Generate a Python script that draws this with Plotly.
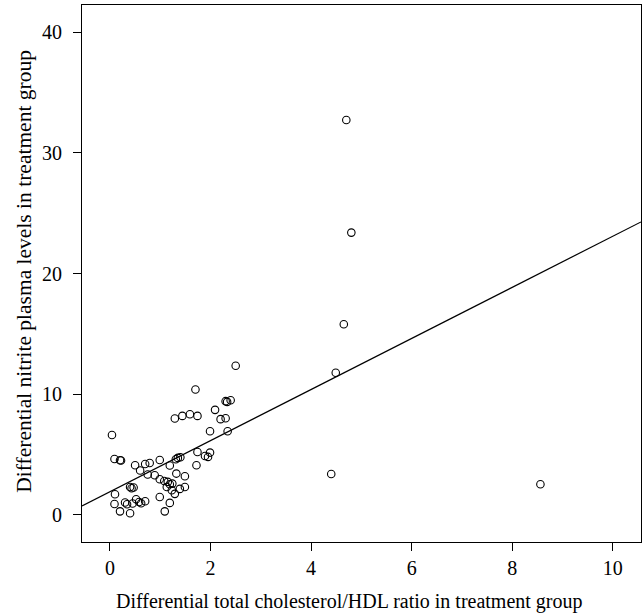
import numpy as np
import plotly.graph_objects as go

# Differential total cholesterol/HDL ratio (x) and differential nitrite plasma levels (y)
chol_hdl_ratio = [
    0.04, 0.09, 0.20, 0.22, 0.10, 0.09, 0.20, 0.30, 0.40, 0.34,
    0.45, 0.40, 0.43, 0.47, 0.52, 0.58, 0.62, 0.70, 0.50, 0.60,
    0.70, 0.79, 0.75, 0.89, 0.99, 0.99, 1.08, 0.99, 1.09, 1.19,
    1.19, 1.15, 1.19, 1.24, 1.13, 1.23, 1.29, 1.32, 1.31, 1.35,
    1.40, 1.39, 1.49, 1.49, 1.29, 1.44, 1.59, 1.74, 1.70, 1.74,
    1.72, 1.89, 1.95, 1.99, 1.99, 2.09, 2.20, 2.30, 2.34, 2.30,
    2.33, 2.40, 2.50, 4.70, 4.80, 4.65, 4.49, 4.40, 8.56,
]
nitrite_levels = [
    6.63, 4.64, 4.54, 4.51, 1.72, 0.91, 0.30, 1.03, 0.14, 0.89,
    0.95, 2.32, 2.22, 2.28, 1.30, 1.08, 0.97, 1.14, 4.12, 3.68,
    4.22, 4.31, 3.35, 3.29, 4.56, 2.96, 2.82, 1.49, 0.30, 1.00,
    4.10, 2.74, 2.55, 2.60, 2.32, 2.05, 1.75, 3.43, 4.62, 4.73,
    4.78, 2.16, 2.32, 3.21, 7.99, 8.21, 8.35, 8.21, 10.40, 5.22,
    4.12, 4.89, 4.81, 5.17, 6.94, 8.71, 7.94, 8.02, 6.94, 9.43,
    9.37, 9.51, 12.36, 32.73, 23.40, 15.80, 11.78, 3.40, 2.55,
]

# Fitted regression line
fit_intercept = 1.93
fit_slope = 2.117

x_ticks = [0, 2, 4, 6, 8, 10]
y_ticks = [0, 10, 20, 30, 40]
x_range = [-0.556, 10.56]
y_range = [-2.24, 42.26]

x_title = "Differential total cholesterol/HDL ratio in treatment group"
y_title = "Differential nitrite plasma levels in treatment group"

FONT = "Liberation Serif, Times New Roman, serif"
FS = 20

line_x = np.array(x_range)
line_y = fit_intercept + fit_slope * line_x

fig = go.Figure()
fig.add_trace(go.Scatter(
    x=line_x, y=line_y, mode="lines",
    line=dict(color="black", width=1.2),
    hoverinfo="skip", showlegend=False,
))
fig.add_trace(go.Scatter(
    x=chol_hdl_ratio, y=nitrite_levels, mode="markers",
    marker=dict(symbol="circle-open", size=7.5, color="black",
                line=dict(width=1.1, color="black")),
    showlegend=False,
))

axis_common = dict(
    showgrid=False, zeroline=False, automargin=False,
    showline=True, linecolor="black", linewidth=1.2, mirror=True,
    ticks="outside", ticklen=8, tickwidth=1.2, tickcolor="black",
    tickfont=dict(family=FONT, size=FS, color="black"),
)

fig.update_xaxes(
    range=x_range, tickvals=x_ticks, ticktext=[str(v) for v in x_ticks],
    **axis_common,
)
fig.update_yaxes(
    range=y_range, tickvals=y_ticks, ticktext=[str(v) for v in y_ticks],
    ticklabelstandoff=7,
    **axis_common,
)

fig.add_annotation(
    text=x_title, xref="paper", yref="paper", x=0.479, y=-0.11,
    xanchor="center", yanchor="middle", showarrow=False,
    font=dict(family=FONT, size=FS, color="black"),
)
fig.add_annotation(
    text=y_title, xref="paper", yref="paper", x=-0.104, y=0.505,
    xanchor="center", yanchor="middle", showarrow=False, textangle=-90,
    font=dict(family=FONT, size=21.5, color="black"),
)

fig.update_layout(
    width=643, height=615,
    margin=dict(l=82, r=2, t=5, b=73),
    plot_bgcolor="white", paper_bgcolor="white",
    font=dict(family=FONT, size=FS, color="black"),
)

fig.write_html(
    "out.html",
    config={"displayModeBar": False},
    post_script="document.body.style.margin='0';document.body.style.overflow='hidden';",
)
